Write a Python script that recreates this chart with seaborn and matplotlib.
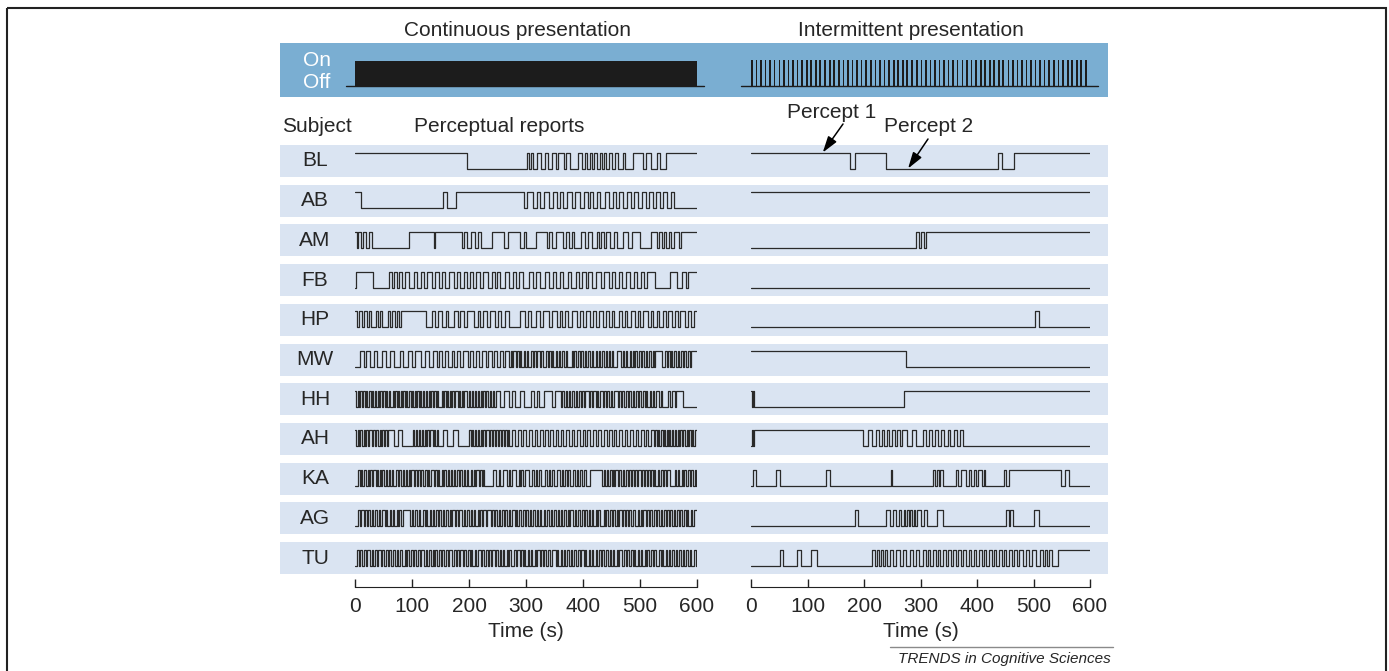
import numpy as np
import pandas as pd
import seaborn as sns
import matplotlib.pyplot as plt
from matplotlib.patches import Rectangle

# Data
subjects = ['BL', 'AB', 'AM', 'FB', 'HP', 'MW', 'HH', 'AH', 'KA', 'AG', 'TU']
T_END = 600

# continuous presentation: starting percept (1 = upper trace) and dominance durations (s)
cont_start = [1, 1, 1, 0, 1, 0, 1, 1, 0, 0, 0]

bl_cont = [197, 105, 4, 3, 4, 7, 6, 8, 4, 7, 7, 5, 9, 5, 7, 14, 6, 5, 4, 5, 4, 4, 5, 4, 4, 4, 4, 5, 5, 5,
           6, 8, 4, 14, 17, 6, 8, 11, 5, 11, 54]
ab_cont = [10, 145, 6, 16, 120, 5, 11, 6, 5, 7, 10, 7, 6, 6, 5, 7, 8, 6, 8, 8, 6, 5, 5, 6, 6, 8, 8, 6, 6, 5,
           7, 8, 6, 6, 7, 6, 7, 6, 6, 6, 7, 6, 6, 8, 5, 40]
am_cont = [3, 3, 4, 4, 5, 5, 5, 65, 45, 2, 46, 4, 5, 8, 6, 6, 5, 19, 22, 6, 22, 6, 4, 18, 18, 5, 5, 6, 13, 6,
           5, 4, 5, 12, 7, 5, 7, 8, 4, 4, 4, 4, 8, 6, 6, 11, 8, 7, 14, 19, 11, 4, 4, 4, 4, 5, 4, 5, 8, 4, 28]
fb_cont = [1, 31, 28, 5, 4, 4, 4, 5, 5, 8, 8, 6, 6, 6, 6, 8, 6, 6, 6, 5, 7, 8, 6, 6, 6, 5, 5, 6, 6, 6, 6, 8,
           8, 4, 4, 6, 8, 8, 6, 6, 4, 8, 10, 8, 5, 7, 8, 8, 6, 6, 6, 6, 8, 6, 8, 6, 6, 6, 4, 6, 8, 8, 6, 8,
           6, 6, 6, 6, 6, 8, 6, 6, 6, 6, 6, 14, 26, 12, 8, 7, 5, 10]
hp_cont = [4, 3, 5, 3, 6, 4, 3, 8, 4, 3, 5, 10, 4, 3, 5, 4, 3, 4, 44, 10, 6, 4, 8, 6, 5, 10, 6, 4, 8, 5, 12,
           6, 4, 5, 7, 5, 10, 4, 6, 8, 6, 20, 8, 6, 5, 9, 7, 5, 10, 6, 8, 5, 4, 6, 5, 7, 9, 4, 6, 5, 8, 5,
           4, 6, 7, 5, 6, 4, 5, 8, 6, 4, 5, 7, 6, 5, 4, 6, 8, 5, 4, 6, 5, 6, 5, 4, 7, 5, 6, 4, 8, 5, 6, 4, 5]
mw_cont = [9, 6, 4, 8, 7, 5, 9, 6, 8, 7, 10, 6, 8, 7, 6, 9, 7, 8, 6, 7, 5, 4, 6, 5, 7, 4, 5, 6, 5, 8, 4, 5,
           6, 4, 5, 7, 5, 6, 4, 5, 6, 5, 4, 6, 3, 2, 3, 4, 2, 3, 3, 2, 4, 3, 2, 3, 5, 3, 2, 3, 3, 4, 2, 3,
           6, 3, 2, 3, 3, 2, 4, 3, 3, 2, 3, 4, 3, 2, 8, 3, 2, 3, 3, 4, 2, 3, 3, 2, 3, 5, 3, 2, 4, 3, 3, 2,
           3, 3, 4, 2, 3, 3, 2, 3, 6, 8, 3, 2, 3, 3, 4, 2, 3, 3, 2, 3, 4, 3, 2, 3, 3, 2, 3, 4, 3, 2, 3, 12,
           5, 3, 2, 3, 3, 2, 3, 3, 4, 2, 3, 3, 2, 3, 4, 3, 2, 3]
hh_cont = [2, 3, 2, 2, 3, 2, 3, 2, 2, 3, 4, 2, 2, 3, 2, 3, 2, 2, 3, 2, 3, 2, 2, 3, 2, 5, 2, 3, 2, 2, 3, 2,
           3, 2, 2, 3, 2, 2, 4, 2, 2, 3, 2, 2, 3, 2, 2, 3, 2, 4, 2, 3, 2, 2, 3, 2, 3, 2, 2, 6, 3, 2, 2, 3,
           2, 3, 2, 2, 3, 2, 4, 3, 2, 2, 3, 2, 5, 3, 2, 3, 2, 3, 2, 4, 2, 3, 2, 2, 3, 2, 4, 3, 2, 3, 2, 3,
           8, 6, 10, 5, 4, 9, 7, 12, 6, 5, 4, 8, 14, 6, 10, 3, 2, 4, 2, 3, 3, 2, 5, 2, 3, 3, 4, 2, 3, 2, 6,
           3, 2, 3, 4, 3, 2, 3, 5, 2, 3, 2, 4, 3, 2, 3, 8, 2, 3, 2, 3, 4, 3, 2, 3, 3, 2, 4, 3, 2, 3, 5, 2,
           3, 2, 4, 3, 2, 3, 3, 6, 2, 3, 10, 4, 3, 5, 3, 12, 24]
ah_cont = [2, 3, 2, 2, 4, 2, 3, 2, 2, 3, 5, 2, 3, 2, 4, 2, 3, 2, 3, 2, 3, 2, 10, 8, 6, 20, 2, 3, 2, 3, 2, 4,
           2, 2, 3, 2, 3, 2, 4, 3, 2, 3, 2, 9, 7, 10, 8, 20, 3, 2, 2, 3, 2, 4, 2, 3, 2, 2, 3, 2, 5, 2, 3, 2,
           3, 2, 4, 2, 3, 2, 3, 2, 3, 2, 3, 5, 4, 6, 5, 4, 5, 6, 4, 5, 5, 4, 6, 3, 5, 4, 6, 5, 4, 5, 3, 6,
           4, 5, 5, 4, 6, 5, 4, 3, 5, 6, 4, 5, 4, 5, 6, 4, 5, 3, 4, 6, 5, 4, 5, 4, 6, 5, 4, 5, 5, 4, 3, 5,
           6, 2, 3, 2, 2, 3, 3, 2, 2, 3, 2, 2, 2, 3, 2, 4, 2, 3, 2, 2, 3, 2, 3, 3, 2, 2, 3, 2, 2, 3, 2]
ka_cont = [5, 3, 2, 3, 2, 4, 3, 2, 3, 2, 3, 4, 2, 3, 2, 3, 2, 3, 4, 2, 3, 2, 3, 2, 5, 3, 2, 4, 3, 2, 3,
           3, 2, 2, 3, 4, 3, 3, 2, 3, 2, 4, 3, 3, 2, 2, 3, 5, 2, 3, 3, 2, 4, 3, 2, 3, 3, 2, 3, 2, 4, 2, 3,
           4, 2, 3, 3, 2, 3, 2, 5, 2, 3, 3, 2, 4, 3, 2, 3, 2, 15, 6, 4, 3, 5, 7, 3, 2, 4, 6, 5, 3, 2, 3, 4,
           6, 5, 4, 3, 2, 3, 5, 6, 4, 3, 2, 3, 4, 5, 6, 3, 2, 3, 4, 2, 3, 5, 4, 3, 2, 3, 4, 3, 4, 7, 22, 3,
           2, 3, 2, 3, 3, 2, 3, 2, 4, 2, 3, 4, 2, 3, 4, 2, 3, 2, 3, 2, 3, 2, 5, 3, 3, 2, 3, 2, 3, 3, 2, 3,
           2, 4, 2, 3, 4, 2, 3, 3, 4, 9, 3, 2, 3, 4, 2, 3, 2, 5, 3, 2, 3, 4, 2, 3]
ag_cont = [6, 3, 2, 4, 3, 3, 2, 3, 4, 2, 3, 3, 4, 2, 3, 5, 3, 2, 4, 3, 3, 2, 4, 3, 2, 3, 4, 12, 3, 2, 4, 3,
           3, 2, 5, 3, 2, 3, 4, 3, 2, 3, 3, 4, 2, 3, 3, 2, 4, 3, 3, 2, 3, 4, 2, 3, 3, 5, 3, 2, 4, 3, 3, 2,
           3, 3, 4, 2, 3, 3, 2, 4, 3, 6, 3, 2, 3, 3, 4, 2, 3, 3, 2, 4, 3, 2, 3, 5, 3, 2, 3, 4, 3, 3, 2, 4,
           3, 2, 3, 3, 4, 2, 3, 3, 5, 2, 3, 4, 3, 2, 3, 3, 4, 2, 3, 3, 2, 4, 3, 3, 2, 5, 3, 2, 3, 4, 3, 3,
           2, 4, 3, 3, 2, 3, 4, 3, 2, 3, 6, 3, 2, 3, 3, 4, 2, 3, 3, 2, 3, 4, 3, 2, 3, 3, 2, 4, 3, 3, 5, 2,
           3, 3, 2, 4, 3, 2, 3, 3, 4, 3, 2, 3, 3, 2, 4, 3, 3, 2, 3, 4, 3, 2, 3, 3, 2, 4, 3, 3, 2, 3, 4, 3,
           2, 6]
tu_cont = [4, 3, 2, 4, 3, 3, 2, 5, 3, 2, 4, 3, 3, 4, 2, 3, 5, 3, 2, 3, 4, 3, 3, 2, 4, 3, 5, 2, 3, 3, 4,
           2, 3, 3, 4, 3, 2, 5, 3, 3, 2, 4, 3, 2, 3, 3, 4, 3, 2, 4, 3, 3, 2, 5, 3, 4, 2, 3, 3, 4, 3, 2, 4,
           3, 3, 2, 4, 3, 3, 5, 2, 3, 4, 3, 2, 3, 3, 4, 2, 3, 4, 3, 3, 2, 4, 3, 2, 3, 5, 3, 3, 4, 2, 3, 3,
           2, 4, 3, 3, 2, 4, 3, 2, 4, 3, 3, 2, 3, 4, 3, 3, 7, 3, 2, 4, 3, 3, 2, 3, 4, 3, 2, 3, 4, 3, 3, 2,
           5, 3, 2, 4, 3, 3, 2, 4, 3, 3, 4, 2, 3, 3, 4, 3, 2, 3, 3, 4, 2, 3, 5, 3, 3, 2, 4, 3, 3, 2, 3, 4,
           3, 2, 3, 4, 3, 2, 3, 3, 4, 2, 3, 5, 3, 2, 3, 4, 3, 3, 2, 4, 3, 3, 2, 3, 4, 3, 3, 2, 4, 3, 3, 5,
           3, 2, 4]

# intermittent presentation: starting percept and switch times (s)
int_start = [1, 1, 0, 0, 0, 1, 1, 0, 0, 0, 0]

bl_int = [175, 184, 239, 437, 444, 466]
ab_int = []
am_int = [292, 297, 301, 306, 310]
fb_int = []
hp_int = [503, 510]
mw_int = [274]
hh_int = [2, 4, 6, 270]
ah_int = [1, 3, 5, 199, 207, 214, 222, 227, 232, 236, 241, 245, 250, 254, 259, 263, 268, 276, 285, 292,
          305, 310, 315, 320, 326, 331, 337, 342, 348, 353, 359, 364, 370, 376]
ka_int = [3, 9, 44, 52, 132, 140, 248, 250, 323, 326, 329, 332, 335, 340, 362, 367, 372, 380, 385, 390,
          394, 398, 402, 408, 412, 415, 448, 452, 457, 548, 556, 563]
ag_int = [184, 189, 239, 246, 252, 257, 262, 266, 270, 273, 276, 279, 282, 285, 288, 291, 294, 300, 306,
          312, 330, 340, 451, 456, 458, 463, 500, 509]
tu_int = [51, 57, 81, 88, 107, 117, 215, 219, 223, 226, 230, 234, 237, 241, 246, 252, 257, 263, 269, 274,
          281, 287, 292, 298, 304, 309, 313, 317, 322, 327, 331, 335, 340, 345, 349, 354, 358, 362, 367,
          372, 376, 380, 385, 390, 394, 398, 403, 408, 412, 416, 421, 426, 430, 434, 439, 444, 448, 452,
          457, 462, 466, 470, 475, 481, 487, 492, 498, 505, 511, 516, 520, 524, 528, 532, 544]

# stimulus schedule for the intermittent condition (pulse onsets, s)
pulse_onsets = [0, 8, 16, 24, 32, 40, 49, 57, 65, 73, 81, 89, 97, 105, 113, 121, 130, 138, 146, 154, 162,
                170, 178, 186, 194, 202, 211, 219, 227, 235, 243, 251, 259, 267, 275, 283, 292, 300, 308,
                316, 324, 332, 340, 348, 356, 364, 373, 381, 389, 397, 405, 413, 421, 429, 437, 445, 454,
                462, 470, 478, 486, 494, 502, 510, 518, 526, 535, 543, 551, 559, 567, 575, 583, 591]
pulse_width = 3

cont_durations = [bl_cont, ab_cont, am_cont, fb_cont, hp_cont, mw_cont, hh_cont, ah_cont, ka_cont,
                  ag_cont, tu_cont]
int_switches = [bl_int, ab_int, am_int, fb_int, hp_int, mw_int, hh_int, ah_int, ka_int, ag_int, tu_int]

# layout (pixels)
W, H = 1389, 671
ROW_TOP, PITCH, ROW_H = 145, 39.7, 32
HIGH, LOW = 7.5 / PITCH, 23.5 / PITCH
LINE = '#2a2a2a'
BAND = '#dae4f2'
STIM = '#7aaed2'


def trace(start, switches, row):
    t = [0] + [s for s in switches if s < T_END] + [T_END]
    lev = [(start + i) % 2 for i in range(len(t) - 1)]
    lev.append(lev[-1])
    y = [row + (HIGH if l else LOW) for l in lev]
    return t, y


rows = []
for i, s in enumerate(subjects):
    sw = np.cumsum(cont_durations[i])[:-1]
    t, y = trace(cont_start[i], sw, i)
    rows += [('Continuous', s, a, b) for a, b in zip(t, y)]
    t, y = trace(int_start[i], int_switches[i], i)
    rows += [('Intermittent', s, a, b) for a, b in zip(t, y)]
df = pd.DataFrame(rows, columns=['condition', 'subject', 'time', 'y'])

sns.set_style('white')
plt.rcParams['font.family'] = ['Liberation Sans', 'DejaVu Sans']

fig = plt.figure(figsize=(W / 100, H / 100), dpi=100)


def px_axes(x0, y0, x1, y1):
    return fig.add_axes([x0 / W, 1 - y1 / H, (x1 - x0) / W, (y1 - y0) / H])


bg = px_axes(0, 0, W, H)
bg.set_xlim(0, W)
bg.set_ylim(H, 0)
bg.axis('off')
bg.add_patch(Rectangle((7, 8), 1379, 700, fill=False, ec='#222222', lw=1.5))
bg.add_patch(Rectangle((280, 43), 828, 54, color=STIM, lw=0))
for i in range(len(subjects)):
    bg.add_patch(Rectangle((280, ROW_TOP + i * PITCH), 828, ROW_H, color=BAND, lw=0))
    bg.text(315, ROW_TOP + i * PITCH + 16, subjects[i], ha='center', va='center', fontsize=15)

bg.text(518, 30, 'Continuous presentation', ha='center', va='center', fontsize=15)
bg.text(911, 30, 'Intermittent presentation', ha='center', va='center', fontsize=15)
bg.text(317, 60, 'On', ha='center', va='center', fontsize=15, color='white')
bg.text(317, 83, 'Off', ha='center', va='center', fontsize=15, color='white')
bg.text(282, 127, 'Subject', ha='left', va='center', fontsize=15)
bg.text(414, 127, 'Perceptual reports', ha='left', va='center', fontsize=15)
bg.plot([890, 1113], [647, 647], color='#8a8a8a', lw=1)
bg.text(1111, 659, 'TRENDS in Cognitive Sciences', ha='right', va='center', fontsize=11, style='italic')

# stimulus timelines
BASE, TOP = (97 - 86) / 54, (97 - 61) / 54
st_l = px_axes(355, 43, 697, 97)
st_r = px_axes(751, 43, 1090, 97)
for ax in (st_l, st_r):
    ax.set_xlim(0, T_END)
    ax.set_ylim(0, 1)
    ax.axis('off')
st_l.fill_between([0, T_END], BASE, TOP, color='#1c1c1c', lw=0)
st_l.plot([-15, 612], [BASE, BASE], color='#1c1c1c', lw=1, clip_on=False)
st_r.bar(pulse_onsets, TOP - BASE + 0.02, width=pulse_width, bottom=BASE, align='edge',
         color='#1c1c1c', lw=0)
st_r.plot([-17, 614], [BASE, BASE], color='#1c1c1c', lw=1, clip_on=False)

# perceptual report traces
n = len(subjects)
bottom_px = ROW_TOP + n * PITCH
ax_l = px_axes(355, ROW_TOP, 697, bottom_px)
ax_r = px_axes(751, ROW_TOP, 1090, bottom_px)
for ax, cond in ((ax_l, 'Continuous'), (ax_r, 'Intermittent')):
    sns.lineplot(data=df[df.condition == cond], x='time', y='y', units='subject', estimator=None,
                 sort=False, drawstyle='steps-post', color=LINE, lw=0.9, ax=ax, legend=False)
    ax.set_xlim(0, T_END)
    ax.set_ylim(n, 0)
    ax.patch.set_alpha(0)
    for side in ('top', 'left', 'right'):
        ax.spines[side].set_visible(False)
    ax.spines['bottom'].set_position(('outward', 4))
    ax.spines['bottom'].set_color('#222222')
    ax.set_yticks([])
    ax.set_xticks(range(0, 601, 100))
    ax.tick_params(axis='x', bottom=True, direction='in', length=6, width=1, color='#222222',
                   labelsize=15, pad=7)
    ax.set_ylabel('')
    ax.set_xlabel('Time (s)', fontsize=15, labelpad=4.5)

# annotations on the intermittent BL trace
bg.text(832, 112, 'Percept 1', ha='center', va='center', fontsize=15)
bg.text(929, 127, 'Percept 2', ha='center', va='center', fontsize=15)
arrow = dict(arrowstyle='-|>,head_length=0.7,head_width=0.22', color='k', lw=1.1, shrinkA=0, shrinkB=0,
             mutation_scale=14)
ax_r.annotate('', xy=(127, HIGH), xytext=(843, 124), textcoords=bg.transData, arrowprops=arrow)
ax_r.annotate('', xy=(278, LOW), xytext=(928, 139), textcoords=bg.transData, arrowprops=arrow)

fig.savefig('out.png', dpi=100)
